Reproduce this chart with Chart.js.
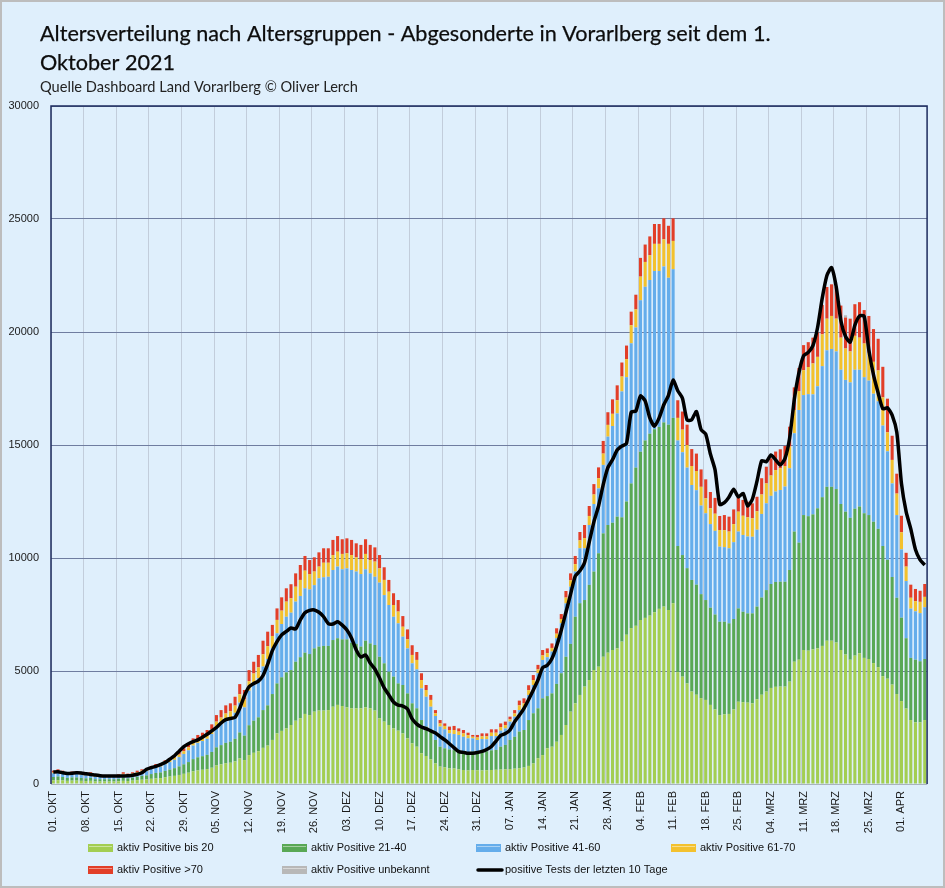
<!DOCTYPE html>
<html>
<head>
<meta charset="utf-8">
<script src="https://cdn.jsdelivr.net/npm/chart.js@4.4.1/dist/chart.umd.min.js"></script>
<style>
  html, body { margin: 0; padding: 0; background: #dfeffc; }
  #wrap { position: relative; width: 945px; height: 888px; }
</style>
</head>
<body>
<div id="wrap"><canvas id="chart" width="945" height="888"></canvas></div>
<script>
// one category per day, 01.10.2021 - 06.04.2022
const days = [
  '01.10','02.10','03.10','04.10','05.10','06.10','07.10','08.10','09.10','10.10','11.10','12.10','13.10','14.10','15.10','16.10',
  '17.10','18.10','19.10','20.10','21.10','22.10','23.10','24.10','25.10','26.10','27.10','28.10','29.10','30.10','31.10',
  '01.11','02.11','03.11','04.11','05.11','06.11','07.11','08.11','09.11','10.11','11.11','12.11','13.11','14.11','15.11',
  '16.11','17.11','18.11','19.11','20.11','21.11','22.11','23.11','24.11','25.11','26.11','27.11','28.11','29.11','30.11',
  '01.12','02.12','03.12','04.12','05.12','06.12','07.12','08.12','09.12','10.12','11.12','12.12','13.12','14.12','15.12','16.12',
  '17.12','18.12','19.12','20.12','21.12','22.12','23.12','24.12','25.12','26.12','27.12','28.12','29.12','30.12','31.12',
  '01.01','02.01','03.01','04.01','05.01','06.01','07.01','08.01','09.01','10.01','11.01','12.01','13.01','14.01','15.01','16.01',
  '17.01','18.01','19.01','20.01','21.01','22.01','23.01','24.01','25.01','26.01','27.01','28.01','29.01','30.01','31.01',
  '01.02','02.02','03.02','04.02','05.02','06.02','07.02','08.02','09.02','10.02','11.02','12.02','13.02','14.02',
  '15.02','16.02','17.02','18.02','19.02','20.02','21.02','22.02','23.02','24.02','25.02','26.02','27.02','28.02',
  '01.03','02.03','03.03','04.03','05.03','06.03','07.03','08.03','09.03','10.03','11.03','12.03','13.03','14.03','15.03','16.03',
  '17.03','18.03','19.03','20.03','21.03','22.03','23.03','24.03','25.03','26.03','27.03','28.03','29.03','30.03','31.03',
  '01.04','02.04','03.04','04.04','05.04','06.04'
];

// weekly axis labels
const tickLabels = [
  '01. OKT','08. OKT','15. OKT','22. OKT','29. OKT','05. NOV','12. NOV','19. NOV','26. NOV',
  '03. DEZ','10. DEZ','17. DEZ','24. DEZ','31. DEZ','07. JAN','14. JAN','21. JAN','28. JAN',
  '04. FEB','11. FEB','18. FEB','25. FEB','04. MRZ','11. MRZ','18. MRZ','25. MRZ','01. APR'
];

const bis20 = [
  160,170,160,140,150,150,140,130,140,110, 110,110,110,110,120,140,130,150,170,190,
  200,230,250,260,300,330,360,400,450,500, 560,600,630,660,720,820,870,920,940,1000,
  1130,1060,1280,1380,1450,1600,1700,1950,2240,2350, 2460,2610,2800,2910,3100,3050,3200,3250,3250,3270,
  3420,3500,3450,3390,3350,3350,3350,3390,3350,3250, 2910,2760,2610,2460,2360,2240,2020,1800,1650,1360,
  1240,1090,910,770,740,690,690,650,620,600, 620,610,600,610,620,630,640,650,660,680,
  700,730,800,910,1140,1280,1580,1650,1870,2170, 2610,3200,3570,3940,4310,4600,5040,5190,5630,5810,
  5930,6000,6300,6600,6900,7000,7260,7350,7450,7600, 7750,7850,7700,8000,4950,4750,4450,4090,3950,3800,
  3720,3500,3300,3050,3080,3100,3300,3640,3620,3600, 3570,3750,3950,4090,4250,4300,4310,4310,4530,5410,
  5500,5930,5900,5960,6000,6110,6340,6340,6260,5930, 5730,5500,5680,5780,5580,5530,5350,5170,4770,4660,
  4400,3980,3670,3340,2830,2730,2730,2830
];
const age21to40 = [
  150,160,150,130,140,140,130,120,130,100, 100,100,100,100,110,130,120,130,150,170,
  180,210,240,250,280,310,340,380,420,470, 540,580,600,630,700,800,850,900,930,1000,
  1150,1080,1320,1420,1500,1670,1780,2030,2210,2370, 2480,2430,2610,2700,2710,2700,2800,2830,2860,2840,
  2950,2950,2950,3010,2900,2850,2730,2950,2870,2900, 2720,2580,2360,2290,2090,2140,1990,1770,1700,1470,
  1300,1230,1040,880,840,840,810,830,770,760, 810,810,830,840,870,880,1010,1080,1290,1410,
  1620,1660,2030,2220,2210,2510,2310,2360,2560,2730, 3020,3000,3830,4060,3830,4210,4360,5020,5460,5650,
  5630,5830,5500,5900,6400,7000,7440,7850,8050,8100, 8050,8150,8200,8200,5580,5380,5100,4940,4870,4600,
  4420,4300,4200,4130,4100,4010,4000,4130,4000,3950, 3980,4100,4300,4490,4600,4640,4640,4640,4940,5760,
  5180,5970,5950,5970,6200,6580,6810,6810,6790,6460, 6320,6280,6500,6500,6400,6370,6250,6120,5760,5260,
  4760,4260,3690,3110,2750,2770,2700,2700
];
const age41to60 = [
  160,170,160,140,150,150,140,130,140,110, 110,110,110,110,120,140,120,140,160,180,
  190,220,250,260,300,330,370,410,460,520, 600,640,670,710,790,900,960,1020,1060,1150,
  1320,1250,1530,1640,1730,1930,2050,2020,2220,2360, 2460,2540,2660,2710,2850,2860,2800,3020,3040,3060,
  3100,3170,3100,3140,3220,3200,3210,3160,3100,3020, 3280,3020,2950,2650,2660,2140,1990,1770,1720,1400,
  1320,1100,1060,890,840,710,710,690,700,660, 590,530,560,530,630,610,710,730,810,890,
  950,960,1110,1250,1550,1700,1720,1850,2020,2210, 2360,2530,2000,2430,2290,2650,2990,2870,3030,3910,
  4280,4570,5570,5500,6200,6200,6700,6800,6800,7000, 6900,6900,6500,6580,4670,4550,4450,4200,4180,3920,
  3840,3700,3700,3320,3300,3320,3400,3400,3400,3400, 3390,3400,3700,3840,3900,4000,4060,4210,4500,4350,
  5870,5310,5400,5310,5400,5800,6040,6100,6090,5940, 5830,5990,6150,6050,6020,5950,5670,5640,5330,4800,
  4140,3660,3020,2530,2180,2140,2130,2290
];
const age61to70 = [
  40,50,40,40,40,40,40,40,40,30, 30,30,30,30,30,40,40,40,40,50,
  50,60,70,70,80,90,100,110,120,130, 150,160,170,180,200,240,260,280,290,320,
  370,350,420,450,480,540,570,550,590,590, 670,640,660,710,780,680,600,520,640,620,
  660,660,680,670,660,630,650,680,590,670, 630,670,590,520,520,440,400,370,420,370,
  300,300,120,140,150,150,180,150,150,140, 70,110,120,130,150,150,160,150,100,140,
  210,220,210,220,170,200,180,160,200,190, 260,280,330,350,450,400,420,450,500,520,
  540,580,660,800,800,800,1050,1100,1100,1200, 1200,1200,1500,1250,1000,1000,1000,840,850,830,
  660,700,760,740,750,740,800,880,850,850, 820,820,860,880,900,950,960,910,960,1030,
  840,1100,1200,1370,1300,1410,1400,1460,1450,1420, 1390,1370,1500,1420,1490,1230,1410,1370,1250,840,
  1040,950,760,640,480,450,500,460
];
const over70 = [
  80,100,80,70,70,70,70,60,70,50, 50,50,50,50,50,70,50,60,70,60,
  70,80,75,80,90,90,100,110,130,150, 170,190,200,210,230,290,330,360,350,390,
  450,420,490,520,550,600,640,490,510,590, 590,620,590,660,650,620,630,630,640,640,
  670,690,650,660,670,620,640,650,670,630, 590,560,520,520,510,470,440,430,350,300,
  220,220,140,150,110,150,180,140,150,110, 80,110,130,130,150,150,160,150,120,150,
  210,220,220,220,200,240,210,200,240,220, 290,310,360,370,580,440,460,480,560,560,
  640,660,620,600,600,650,830,770,830,880, 880,930,800,1000,780,800,900,750,770,770,
  840,720,700,620,670,660,650,690,700,690, 660,640,720,740,760,820,840,890,880,1000,
  1020,1110,1100,1140,1080,1300,1400,1400,1400,1420, 1370,1450,1400,1570,1480,1630,1450,1400,1350,1490,
  1070,880,730,610,580,540,490,570
];
const unknownAge = [
  0,0,0,0,0,0,0,0,0,0, 0,0,0,0,0,0,0,0,0,0,
  0,0,0,0,0,0,0,0,0,0, 0,0,0,0,0,0,0,0,0,0,
  0,0,0,0,0,0,0,0,0,0, 0,0,0,0,0,0,0,0,0,0,
  0,0,0,0,0,0,0,0,0,0, 0,0,0,0,0,0,0,0,0,0,
  0,0,0,0,0,0,0,0,0,0, 0,0,0,0,0,0,0,0,0,0,
  0,0,0,0,0,0,0,0,0,0, 0,0,0,0,0,0,0,0,0,0,
  0,0,0,0,0,0,0,0,0,0, 0,0,0,0,0,0,0,0,0,0,
  0,0,0,0,0,0,0,0,0,0, 0,0,0,0,0,0,0,0,0,0,
  0,0,0,0,0,0,0,0,0,0, 100,0,0,0,0,0,0,0,0,0,
  0,0,0,0,0,0,0,0
];
const tests10 = [
  530,540,500,470,480,500,490,450,420,400, 370,350,350,350,350,355,360,390,430,500,
  650,720,780,860,950,1100,1250,1450,1650,1780, 1880,1950,2070,2200,2350,2500,2700,2850,2900,2950,
  3350,3900,4300,4450,4550,4800,5300,5900,6300,6600, 6750,6900,6860,7260,7580,7680,7700,7600,7400,7100,
  7080,7180,7030,6810,6450,5930,5620,5710,5350,5090, 4690,4250,3940,3630,3490,3450,3320,2880,2650,2520,
  2450,2350,2260,2100,1950,1780,1600,1430,1400,1360, 1360,1390,1440,1530,1660,1900,2150,2230,2390,2760,
  3040,3350,3740,4160,4600,5150,5250,5550,6100,6800, 7600,8400,9200,9430,9800,10700,11600,12300,13250,14000,
  14350,14780,14950,15070,16450,16500,17170,16950,16200,15830, 16200,16780,17200,17870,17400,17070,16100,16120,16480,15680,
  15480,14600,13900,12370,12450,12700,13040,12700,12860,12300, 12600,13400,14300,14260,14560,14340,14120,14400,15300,17000,
  18200,18950,19100,19400,20200,21500,22500,22850,22000,20500, 19800,19550,20300,20710,20700,19200,18100,17300,16600,16650,
  16320,15560,13300,12050,11290,10380,9920,9690
];

const titleLines = ['Altersverteilung nach Altersgruppen - Abgesonderte in Vorarlberg seit dem 1.', 'Oktober 2021'];
const subtitle = 'Quelle Dashboard Land Vorarlberg \u00A9 Oliver Lerch';

const COLORS = {
  bis20: '#a3ce52', a2140: '#59a855', a4160: '#65adeb', a6170: '#f3c12e', a70: '#e23e28', unk: '#b8b8b8'
};
const AXIS_FONT = { family: "'Liberation Sans', Arial, sans-serif", size: 11 };

const legendItems = [
  { text: 'aktiv Positive bis 20', color: COLORS.bis20, x: 88, y: 848 },
  { text: 'aktiv Positive 21-40', color: COLORS.a2140, x: 282, y: 848 },
  { text: 'aktiv Positive 41-60', color: COLORS.a4160, x: 476, y: 848 },
  { text: 'aktiv Positive 61-70', color: COLORS.a6170, x: 671, y: 848 },
  { text: 'aktiv Positive >70', color: COLORS.a70, x: 88, y: 870 },
  { text: 'aktiv Positive unbekannt', color: COLORS.unk, x: 282, y: 870 },
  { text: 'positive Tests der letzten 10 Tage', color: '#000', x: 476, y: 870, line: true }
];

// background, title, frame and legend drawn straight on the canvas
const decor = {
  id: 'decor',
  beforeDraw(chart) {
    const ctx = chart.ctx;
    ctx.save();
    ctx.fillStyle = '#dfeffc';
    ctx.fillRect(0, 0, chart.width, chart.height);
    ctx.restore();
  },
  afterDatasetsDraw(chart) {
    const { ctx, chartArea: a } = chart;
    ctx.save();
    ctx.strokeStyle = '#a9b3bf';
    ctx.lineWidth = 1;
    ctx.beginPath(); ctx.moveTo(a.left, a.bottom + 0.5); ctx.lineTo(a.right, a.bottom + 0.5); ctx.stroke();
    ctx.strokeStyle = '#1d2b5e';
    ctx.lineWidth = 1.5;
    ctx.beginPath();
    ctx.moveTo(a.left, a.bottom); ctx.lineTo(a.left, a.top); ctx.lineTo(a.right, a.top); ctx.lineTo(a.right, a.bottom);
    ctx.stroke();
    ctx.restore();
  },
  afterDraw(chart) {
    const ctx = chart.ctx;
    ctx.save();
    // title, sized to the reference width
    ctx.fillStyle = '#0d0d0d';
    ctx.textBaseline = 'alphabetic';
    ctx.font = '22px Lato';
    let w = ctx.measureText(titleLines[0]).width;
    const ts = Math.min(24, 22 * 731 / w);
    ctx.font = ts.toFixed(2) + 'px Lato';
    ctx.lineWidth = 0.25;
    ctx.strokeStyle = '#0d0d0d';
    titleLines.forEach((t, i) => {
      ctx.fillText(t, 40, 41 + i * 29);
      ctx.strokeText(t, 40, 41 + i * 29);
    });
    ctx.font = '15px Lato';
    w = ctx.measureText(subtitle).width;
    ctx.font = (15 * 318 / w).toFixed(2) + 'px Lato';
    ctx.fillStyle = '#222';
    ctx.fillText(subtitle, 40, 92);

    // legend
    ctx.font = "11px 'Liberation Sans', Arial, sans-serif";
    ctx.textBaseline = 'middle';
    legendItems.forEach(it => {
      if (it.line) {
        ctx.strokeStyle = '#000';
        ctx.lineWidth = 3.5;
        ctx.lineCap = 'round';
        ctx.beginPath(); ctx.moveTo(it.x + 2, it.y); ctx.lineTo(it.x + 26, it.y); ctx.stroke();
      } else {
        ctx.fillStyle = it.color;
        ctx.fillRect(it.x, it.y - 4, 25, 8);
        ctx.strokeStyle = 'rgba(255,255,255,0.45)';
        ctx.lineWidth = 1;
        ctx.beginPath(); ctx.moveTo(it.x + 1, it.y - 1.5); ctx.lineTo(it.x + 24, it.y - 1.5); ctx.stroke();
      }
      ctx.fillStyle = '#111';
      ctx.fillText(it.text, it.x + 29, it.y);
    });

    // outer frame
    ctx.strokeStyle = '#bdbdbd';
    ctx.lineWidth = 2;
    ctx.strokeRect(1, 1, chart.width - 2, chart.height - 2);
    ctx.restore();
  }
};

const barSet = (label, data, color) => ({
  type: 'bar', label, data, backgroundColor: color, borderWidth: 0,
  barPercentage: 0.66, categoryPercentage: 1, order: 1, stack: 'ages'
});

new Chart(document.getElementById('chart'), {
  type: 'bar',
  data: {
    labels: days,
    datasets: [
      {
        type: 'line', label: 'positive Tests der letzten 10 Tage', data: tests10,
        borderColor: '#000', borderWidth: 3.5, pointRadius: 0, tension: 0.2,
        fill: false, order: 0, stack: 'tests', borderJoinStyle: 'round'
      },
      barSet('aktiv Positive bis 20', bis20, COLORS.bis20),
      barSet('aktiv Positive 21-40', age21to40, COLORS.a2140),
      barSet('aktiv Positive 41-60', age41to60, COLORS.a4160),
      barSet('aktiv Positive 61-70', age61to70, COLORS.a6170),
      barSet('aktiv Positive >70', over70, COLORS.a70),
      barSet('aktiv Positive unbekannt', unknownAge, COLORS.unk)
    ]
  },
  options: {
    responsive: false,
    animation: false,
    layout: { padding: { top: 106, right: 15, left: 0, bottom: 0 } },
    plugins: { legend: { display: false }, tooltip: { enabled: false }, title: { display: false } },
    scales: {
      x: {
        stacked: true,
        grid: {
          offset: true, drawTicks: false, lineWidth: 1,
          color: ctx => (ctx.index % 7 === 0 ? '#c2cddb' : 'rgba(0,0,0,0)')
        },
        border: { display: false },
        ticks: {
          autoSkip: false, maxRotation: 90, minRotation: 90, padding: 7,
          font: AXIS_FONT, color: '#1a1a1a',
          callback: (v, i) => (i % 7 === 0 ? tickLabels[i / 7] : '')
        },
        afterFit: s => { s.height = 104; }
      },
      y: {
        stacked: true, min: 0, max: 30000,
        ticks: { stepSize: 5000, padding: 12, font: AXIS_FONT, color: '#1a1a1a', callback: v => String(v) },
        grid: { color: '#6f7da0', drawTicks: false, lineWidth: 1 },
        border: { display: false },
        afterFit: s => { s.width = 51; }
      }
    }
  },
  plugins: [decor]
});
</script>
</body>
</html>
